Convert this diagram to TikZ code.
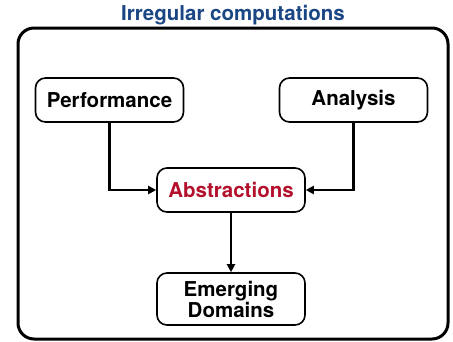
\documentclass[tikz,border=0pt]{standalone}
\usepackage{fontspec}
\setmainfont{TeX Gyre Heros}
\usetikzlibrary{arrows.meta}
\definecolor{titleblue}{HTML}{1B4684}
\definecolor{absred}{HTML}{B3102C}
\begin{document}
\begin{tikzpicture}[x=1pt, y=-1pt,
    box/.style={rectangle, draw, line width=1.6pt, rounded corners=10pt, minimum width=148pt, minimum height=44pt, align=center, font=\fontsize{20.5}{21}\selectfont\bfseries},
    link/.style={draw, line width=2.6pt, -{Triangle[length=8pt,width=8pt]}}]
    \useasboundingbox (0,0) rectangle (453,341);
    % frame and title
    \draw[line width=3pt, rounded corners=16pt] (18,28) rectangle (448,339);
    \node[text=titleblue, font=\fontsize{20.5}{22}\selectfont\bfseries] (title) at (233,15) {Irregular computations};
    % boxes
    \node[box] (perf) at (109.5,100) {Performance};
    \node[box] (anal) at (353.5,100) {Analysis};
    \node[box, text=absred] (abs) at (231,190) {Abstractions};
    \node[box, minimum height=52pt, inner sep=2pt] (emerg) at (231,299) {Emerging\\Domains};
    % arrows
    \draw[link] (perf.south) |- (abs.west);
    \draw[link] (anal.south) |- (abs.east);
    \draw[link] (abs.south) -- (emerg.north);
\end{tikzpicture}
\end{document}
